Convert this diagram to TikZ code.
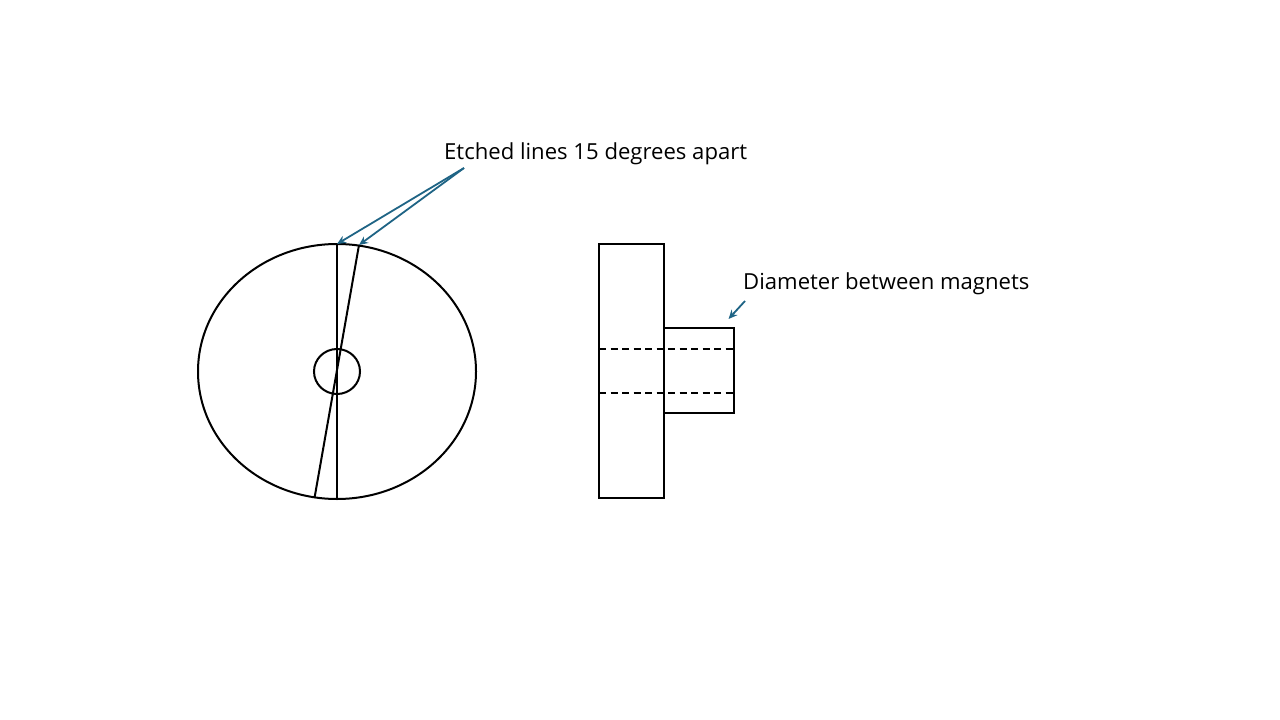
\documentclass[tikz,border=0pt]{standalone}
\usepackage{fontspec}
\setmainfont{Open Sans}
\usetikzlibrary{shapes.geometric,arrows.meta}
\tikzset{
  part/.style={draw=black,line width=2pt},
  hidden/.style={draw=black,line width=1.9pt,dash pattern=on 7pt off 4.5pt},
  leader/.style={draw=leadblue,line width=1.8pt,-{Stealth[length=9pt,width=8pt]}},
  lab/.style={anchor=base west,inner sep=0pt,font=\fontsize{22.1pt}{24pt}\selectfont,text=black}
}
\definecolor{leadblue}{HTML}{1F6485}
\begin{document}
\begin{tikzpicture}[x=1pt,y=-1pt]
\useasboundingbox (0,0) rectangle (1280,720);
\node[part,ellipse,inner sep=0pt,minimum width=278pt,minimum height=255pt] (disc) at (337,371.5) {};
\node[part,ellipse,inner sep=0pt,minimum width=46pt,minimum height=45pt] (hub) at (337,371.5) {};
\coordinate (t1) at (337,244);
\coordinate (b1) at (337,499);
\coordinate (t2) at (359,245);
\coordinate (b2) at (314.5,498);
\draw[part] (t1) -- (b1);
\draw[part] (t2) -- (b2);
\draw[part] (599,244) rectangle (664,498);
\draw[part] (664,328) -- (734,328) -- (734,413) -- (664,413);
\coordinate (h1l) at (599,349); \coordinate (h1r) at (734,349);
\coordinate (h2l) at (599,393); \coordinate (h2r) at (734,393);
\draw[hidden] (h1l) -- (h1r);
\draw[hidden] (h2l) -- (h2r);
\node[lab] (etch) at (444,159) {Etched lines 15 degrees apart};
\node[lab] (dia) at (743,289) {Diameter between magnets};
\coordinate (e0) at (464,168);
\coordinate (d0) at (745,301);
\coordinate (d1) at (728.5,319);
\draw[leader] (e0) -- (t1);
\draw[leader] (e0) -- (t2);
\draw[leader] (d0) -- (d1);
\end{tikzpicture}
\end{document}
